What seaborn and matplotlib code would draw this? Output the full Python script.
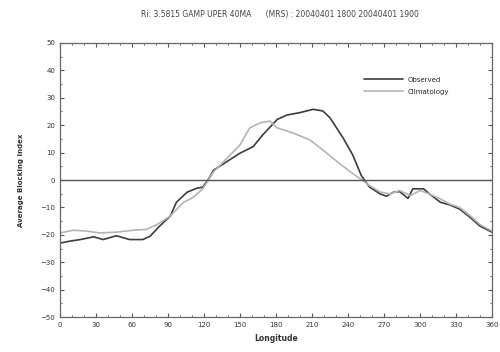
"""
Blocking index vs longitude: observed against climatology.
"""
import matplotlib
matplotlib.use("Agg")
import matplotlib.pyplot as plt
import seaborn as sns
import pandas as pd
from matplotlib.ticker import MultipleLocator

obs_lon = [0, 8, 17, 28, 36, 47, 58, 69, 75, 83, 92, 97, 106, 114, 119, 124, 128,
           139, 150, 161, 169, 181, 189, 200, 211, 219, 225, 236, 244, 251, 258,
           267, 272, 278, 283, 290, 294, 303, 308, 317, 325, 333, 342, 350, 360]
obs_val = [-23.0, -22.3, -21.7, -20.7, -21.7, -20.3, -21.7, -21.7, -20.5, -16.8,
           -13.1, -8.1, -4.4, -3.0, -2.6, 0.5, 3.6, 6.7, 9.8, 12.2, 16.5, 22.1,
           23.7, 24.6, 25.8, 25.2, 22.7, 15.3, 9.1, 1.7, -2.6, -5.1, -5.9, -4.4,
           -4.2, -6.7, -3.2, -3.2, -5.1, -8.1, -9.1, -10.6, -13.7, -16.8, -19.0]

clim_lon = [0, 11, 22, 33, 47, 61, 72, 81, 92, 103, 111, 119, 128, 139, 150, 158,
            167, 175, 181, 194, 208, 219, 231, 242, 250, 258, 267, 275, 283, 292,
            300, 308, 317, 325, 333, 342, 350, 360]
clim_val = [-19.3, -18.3, -18.6, -19.3, -19.0, -18.3, -18.0, -16.2, -13.1, -8.1,
            -6.3, -3.2, 3.0, 7.9, 12.8, 19.0, 20.9, 21.5, 19.0, 17.2, 14.7, 11.0,
            6.7, 3.0, 0.5, -2.0, -4.4, -5.1, -3.8, -5.7, -3.8, -5.1, -6.9, -8.8,
            -10.0, -13.1, -16.2, -18.6]

x_ticks = list(range(0, 361, 30))
y_ticks = list(range(-50, 51, 10))

df = pd.concat([
    pd.DataFrame({"lon": obs_lon, "val": obs_val, "series": "Observed"}),
    pd.DataFrame({"lon": clim_lon, "val": clim_val, "series": "Climatology"}),
])

sns.set_style("ticks")
plt.rcParams["font.family"] = ["DejaVu Sans"]

fig = plt.figure(figsize=(5.0, 3.52), dpi=100)
ax = fig.add_axes([0.12, 0.099, 0.864, 0.779])

sns.lineplot(data=df, x="lon", y="val", hue="series", ax=ax,
             palette={"Observed": "#3c3c3c", "Climatology": "#b4b4b4"},
             linewidth=1.2, sort=False)
ax.axhline(0, color="#555555", linewidth=1.0)

ax.set_xlim(0, 360)
ax.set_ylim(-50, 50)
ax.set_xticks(x_ticks)
ax.set_yticks(y_ticks)
ax.xaxis.set_minor_locator(MultipleLocator(10))
ax.yaxis.set_minor_locator(MultipleLocator(5))
ax.tick_params(direction="in", which="both", labelsize=5, colors="#555555",
               labelcolor="#333333", top=True, right=True, length=3)
ax.tick_params(which="minor", length=1.5)
for s in ax.spines.values():
    s.set_color("#666666")
    s.set_linewidth(0.9)

ax.set_xlabel("Longitude", fontsize=5.5, color="#333333", fontweight="bold")
ax.set_ylabel("Average Blocking Index", fontsize=5, color="#333333",
              fontweight="bold", labelpad=12)
fig.text(0.56, 0.958, "Ri: 3.5815 GAMP UPER 40MA      (MRS) : 20040401 1800 20040401 1900",
         ha="center", va="center", fontsize=5.5, color="#444444")

ax.legend(frameon=False, fontsize=5, loc="upper left",
          bbox_to_anchor=(0.69, 0.9), handlelength=5.5, labelspacing=0.9,
          title=None)

fig.savefig("out.png", dpi=100)
